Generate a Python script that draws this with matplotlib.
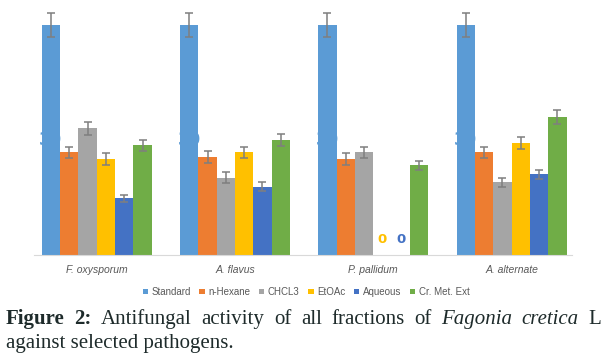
import numpy as np
import matplotlib.pyplot as plt

pathogens = ['F. oxysporum', 'A. flavus', 'P. pallidum', 'A. alternate']
fractions = ['Standard', 'n-Hexane', 'CHCL3', 'EtOAc', 'Aqueous', 'Cr. Met. Ext']
colors = ['#5B9BD5', '#ED7D31', '#A5A5A5', '#FFC000', '#4472C4', '#70AD47']

standard = [30, 30, 30, 30]
hexane = [13.4, 12.8, 12.5, 13.4]
chcl3 = [16.5, 10.1, 13.4, 9.5]
etoac = [12.5, 13.4, 0, 14.6]
aqueous = [7.4, 8.9, 0, 10.5]
crmet = [14.3, 15.0, 11.7, 18.0]

err_standard = [1.6, 1.6, 1.6, 1.6]
err_hexane = [0.75, 0.75, 0.75, 0.75]
err_chcl3 = [0.8, 0.7, 0.75, 0.6]
err_etoac = [0.75, 0.75, 0, 0.75]
err_aqueous = [0.45, 0.6, 0, 0.6]
err_crmet = [0.75, 0.75, 0.6, 0.9]

values = [standard, hexane, chcl3, etoac, aqueous, crmet]
errors = [err_standard, err_hexane, err_chcl3, err_etoac, err_aqueous, err_crmet]

fig = plt.figure(figsize=(6.11, 3.6), dpi=100)
ax = fig.add_axes([34 / 611, 105 / 360, 538 / 611, 245 / 360])

x = np.arange(len(pathogens))
w = 0.1325
for k, (vals, errs) in enumerate(zip(values, errors)):
    pos = x + (k - 2.5) * w
    ax.bar(pos, vals, width=w, color=colors[k], zorder=2, label=fractions[k])
    show = np.array(vals) > 0
    ax.errorbar(pos[show], np.array(vals)[show], yerr=np.array(errs)[show],
                fmt='none', ecolor='#7F7F7F', elinewidth=1.1, capsize=3,
                capthick=1.1, zorder=3)

# data labels (the 30s sit mostly hidden behind the bars, like in the original)
for i in range(len(pathogens)):
    xs = x[i] - 2.5 * w
    ax.text(xs, standard[i] / 2, '30', color='#5B9BD5', fontsize=12,
            fontweight='bold', ha='center', va='center', zorder=1)
for k in (3, 4):
    for i, v in enumerate(values[k]):
        if v == 0:
            ax.text(x[i] + (k - 2.5) * w, 2.0, '0', color=colors[k], fontsize=9.5,
                    fontweight='bold', ha='center', va='center', zorder=4)

ax.set_xlim((34 - 96.7) / 138.3, (572 - 96.7) / 138.3)
ax.set_ylim(0, 245 / 7.667)
for s in ['top', 'right', 'left']:
    ax.spines[s].set_visible(False)
ax.spines['bottom'].set_color('#D9D9D9')
ax.set_yticks([])
ax.set_xticks(x)
ax.set_xticklabels(pathogens, fontstyle='italic', color='#595959', fontsize=7.5,
                   fontfamily='Liberation Sans')
ax.tick_params(axis='x', length=0, pad=7)

leg = ax.legend(loc='center', bbox_to_anchor=(306 / 611, 1 - 292 / 360),
                bbox_transform=fig.transFigure, ncol=6, frameon=False,
                handlelength=0.55, handleheight=0.55, handletextpad=0.35,
                columnspacing=0.9, prop={'family': 'Liberation Sans', 'size': 7.0})
for t in leg.get_texts():
    t.set_color('#595959')

# caption, justified first line
cap_color = '#1E2B2B'
words1 = [('Figure', 'bold', 'normal'), ('2:', 'bold', 'normal'),
          ('Antifungal', 'normal', 'normal'), ('activity', 'normal', 'normal'),
          ('of', 'normal', 'normal'), ('all', 'normal', 'normal'),
          ('fractions', 'normal', 'normal'), ('of', 'normal', 'normal'),
          ('Fagonia', 'normal', 'italic'), ('cretica', 'normal', 'italic'),
          ('L', 'normal', 'normal')]
fig.canvas.draw()
renderer = fig.canvas.get_renderer()
arts = []
for word, weight, style in words1:
    t = fig.text(0, 1 - 324 / 360, word, fontsize=15, fontfamily='Liberation Serif',
                 fontweight=weight, fontstyle=style, color=cap_color,
                 va='baseline', ha='left')
    arts.append(t)
widths = [a.get_window_extent(renderer).width for a in arts]
x0, x1 = 6, 601
gap = (x1 - x0 - sum(widths)) / (len(arts) - 1)
cur = x0
for a, wd in zip(arts, widths):
    a.set_x(cur / 611)
    cur += wd + gap

fig.text(6 / 611, 1 - 348 / 360, 'against selected pathogens.', fontsize=15,
         fontfamily='Liberation Serif', color=cap_color, va='baseline', ha='left')

fig.savefig('out.png', dpi=100)
